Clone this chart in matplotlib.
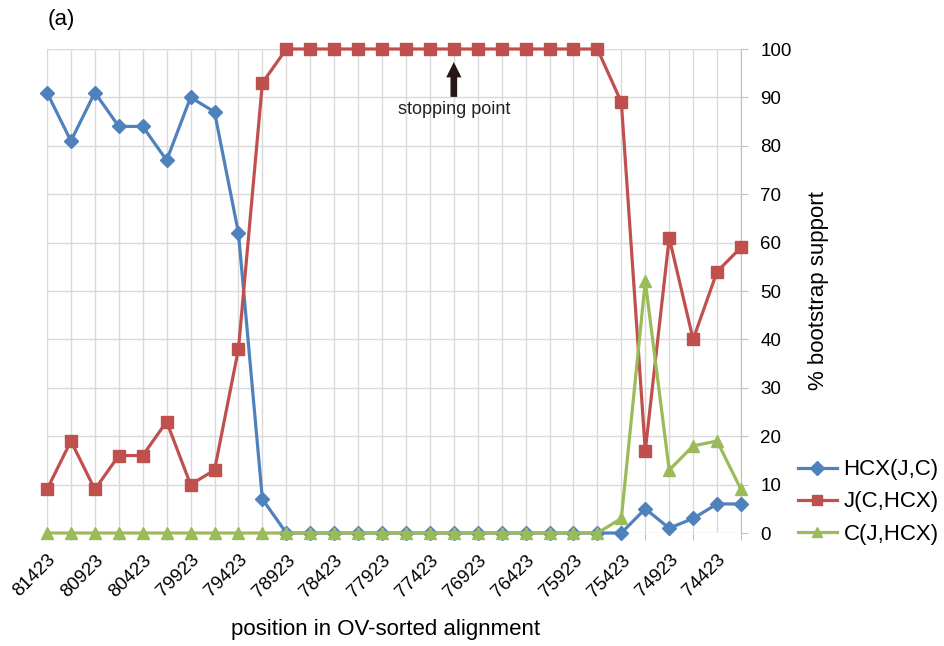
import matplotlib
matplotlib.use("Agg")
import matplotlib.pyplot as plt
import matplotlib.transforms as mtransforms
import numpy as np

plt.rcParams['font.family'] = ['Liberation Sans', 'DejaVu Sans']

positions = [81423 - 250 * k for k in range(30)]
hcx = [91, 81, 91, 84, 84, 77, 90, 87, 62, 7, 0, 0, 0, 0, 0, 0, 0, 0, 0, 0,
       0, 0, 0, 0, 0, 5, 1, 3, 6, 6]
jch = [9, 19, 9, 16, 16, 23, 10, 13, 38, 93, 100, 100, 100, 100, 100, 100, 100,
       100, 100, 100, 100, 100, 100, 100, 89, 17, 61, 40, 54, 59]
cjh = [0, 0, 0, 0, 0, 0, 0, 0, 0, 0, 0, 0, 0, 0, 0, 0, 0, 0, 0, 0,
       0, 0, 0, 0, 3, 52, 13, 18, 19, 9]
series_names = ["HCX(J,C)", "J(C,HCX)", "C(J,HCX)"]
stop_index = 17
stop_label = "stopping point"

W, H = 945, 646
fig = plt.figure(figsize=(W / 100, H / 100), dpi=100)
ax = fig.add_axes([47 / W, 1 - 533 / H, (741 - 47) / W, (533 - 49) / H])

x = np.arange(len(positions))
blue, red, green = '#4F81BD', '#C0504D', '#9BBB59'
ax.plot(x, hcx, color=blue, lw=2.3, marker='D', ms=7, label=series_names[0],
        zorder=3, clip_on=False)
ax.plot(x, jch, color=red, lw=2.3, marker='s', ms=8.5, label=series_names[1],
        zorder=4, clip_on=False)
ax.plot(x, cjh, color=green, lw=2.3, marker='^', ms=9, label=series_names[2],
        zorder=5, clip_on=False)

ax.set_xlim(0, len(positions) - 1)
ax.set_ylim(0, 100)

ax.set_xticks(x[::2])
ax.set_xticks(x[1::2], minor=True)
ax.set_xticklabels([str(p) for p in positions[::2]], rotation=45, ha='right',
                   va='center', rotation_mode='anchor', fontsize=13.5)
ax.tick_params(axis='x', which='major', length=0, pad=14)
ax.tick_params(axis='x', which='minor', length=5, color='#BFBFBF', width=0.8)
offset = mtransforms.ScaledTranslation(6 / 100, -5 / 100, fig.dpi_scale_trans)
for lab in ax.get_xticklabels():
    lab.set_transform(lab.get_transform() + offset)

for xi in x:
    ax.axvline(xi, color='#D9D9D9', lw=1.0, zorder=0)
for yv in range(0, 101, 10):
    ax.axhline(yv, color='#D9D9D9', lw=1.0, zorder=0)

ax.yaxis.tick_right()
ax.set_yticks(range(0, 101, 10))
ax.tick_params(axis='y', length=5, color='#BFBFBF', width=0.8, pad=9, labelsize=13.5)
for s in ['top', 'left', 'bottom']:
    ax.spines[s].set_visible(False)
ax.spines['right'].set_color('#BFBFBF')
ax.spines['right'].set_linewidth(0.8)

ax.annotate('', xy=(stop_index, 97.3), xytext=(stop_index, 90.1),
            arrowprops=dict(facecolor='#231815', edgecolor='none', width=4.8,
                            headwidth=11, headlength=11, shrink=0), zorder=6)
ax.text(stop_index, 87.6, stop_label, ha='center', va='center', fontsize=13, color='#222222')

fig.text(386 / W, 1 - 629 / H, 'position in OV-sorted alignment', ha='center',
         va='center', fontsize=16)
fig.text(819 / W, 1 - 291 / H, '% bootstrap support', ha='center', va='center',
         rotation=90, fontsize=16)
fig.text(48 / W, 1 - 19 / H, '(a)', ha='left', va='center', fontsize=16)

leg = fig.legend(loc='center left', bbox_to_anchor=(798 / W, 1 - 502 / H),
                 frameon=False, fontsize=16, handlelength=1.75, handletextpad=0.3,
                 labelspacing=0.5, borderpad=0, borderaxespad=0)
for h in leg.legend_handles:
    h.set_markersize(7)

fig.savefig('out.png', dpi=100)
